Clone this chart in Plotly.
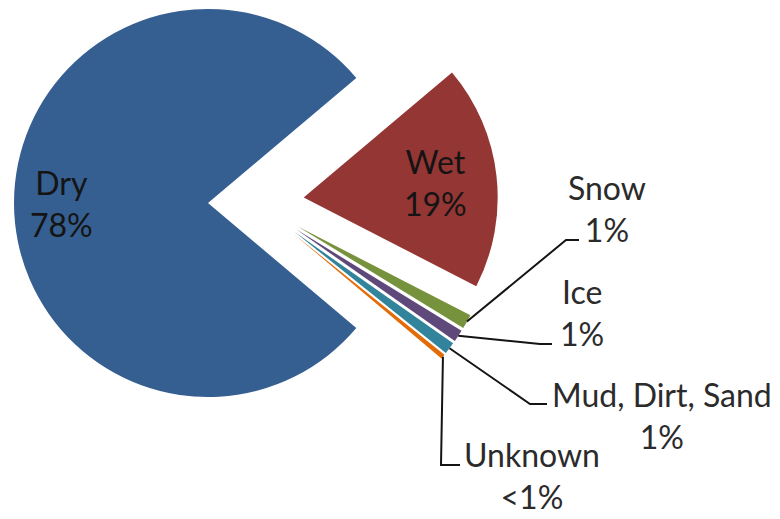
import math
import plotly.graph_objects as go

W, H = 780, 519

# Road surface condition shares (percent)
categories = ["Dry", "Wet", "Snow", "Ice", "Mud, Dirt, Sand", "Unknown"]
shares = [77.7, 18.7, 1.2, 1.0, 1.0, 0.4]
colors = ["#365F91", "#943634", "#76923C", "#5F497A", "#31849B", "#E36C09"]

# Exploded-pie geometry, in pixels
CX, CY = 256, 203      # centre of the un-exploded pie
RADIUS = 194
EXPLODE = 48           # distance each slice is pushed out along its bisector

# Label placement: inside labels as a fraction of the radius along the bisector,
# callouts as (label centre, leader elbow, leader end) in pixels
inside_frac = {"Dry": 0.755, "Wet": 0.685}
callouts = {
    "Snow": ((607, 208), (566, 240), (579, 240)),
    "Ice": ((582, 312), (540, 344), (552, 344)),
    "Mud, Dirt, Sand": ((662, 415), (530, 404), (547, 404)),
    "Unknown": ((532, 475), (441, 465), (460, 465)),
}

FONT = "Lato, 'Open Sans', sans-serif"
FONT_SIZE = 32

total = sum(shares)
# Dry is centred on the left-hand side
rotation = 270 - 180 * shares[0] / total


def pct_text(v):
    p = 100 * v / total
    return "<1%" if p < 0.5 else f"{p:.0f}%"


def px_to_paper(x, y):
    return x / W, 1 - y / H


fig = go.Figure()
annotations = []
shapes = []

cum = 0.0
for i, (name, v) in enumerate(zip(categories, shares)):
    bis = math.radians(rotation + 360 * (cum + v / 2) / total)
    cum += v
    ux, uy = math.sin(bis), -math.cos(bis)
    ax, ay = CX + EXPLODE * ux, CY + EXPLODE * uy

    # one trace per slice: the full pie, with only this slice painted
    slice_colors = ["rgba(0,0,0,0)"] * len(shares)
    slice_colors[i] = colors[i]
    fig.add_trace(go.Pie(
        labels=categories,
        values=shares,
        sort=False,
        direction="clockwise",
        rotation=rotation,
        marker=dict(colors=slice_colors, line=dict(width=0)),
        textinfo="none",
        hoverinfo="skip",
        showlegend=False,
        domain=dict(
            x=[(ax - RADIUS) / W, (ax + RADIUS) / W],
            y=[1 - (ay + RADIUS) / H, 1 - (ay - RADIUS) / H],
        ),
    ))

    text = f"{name}<br>{pct_text(v)}"
    if name in inside_frac:
        k = inside_frac[name] * RADIUS
        lx, ly = px_to_paper(ax + k * ux, ay + k * uy)
        annotations.append(dict(
            x=lx, y=ly, xref="paper", yref="paper", text=text, showarrow=False,
            xanchor="center", yanchor="middle",
            font=dict(family=FONT, size=FONT_SIZE, color="#141414"),
        ))
    else:
        (tx, ty), (ex, ey), (fx, fy) = callouts[name]
        sx, sy = ax + RADIUS * ux, ay + RADIUS * uy
        pts = [px_to_paper(sx, sy), px_to_paper(ex, ey), px_to_paper(fx, fy)]
        path = "M {} {} L {} {} L {} {}".format(*[c for p in pts for c in p])
        shapes.append(dict(
            type="path", path=path, xref="paper", yref="paper",
            line=dict(color="#141414", width=2),
        ))
        lx, ly = px_to_paper(tx, ty)
        annotations.append(dict(
            x=lx, y=ly, xref="paper", yref="paper", text=text, showarrow=False,
            xanchor="center", yanchor="middle",
            font=dict(family=FONT, size=FONT_SIZE, color="#2b2b2b"),
        ))

fig.update_layout(
    width=W,
    height=H,
    margin=dict(l=0, r=0, t=0, b=0),
    paper_bgcolor="white",
    plot_bgcolor="white",
    showlegend=False,
    annotations=annotations,
    shapes=shapes,
)

fig.write_html("out.html")
